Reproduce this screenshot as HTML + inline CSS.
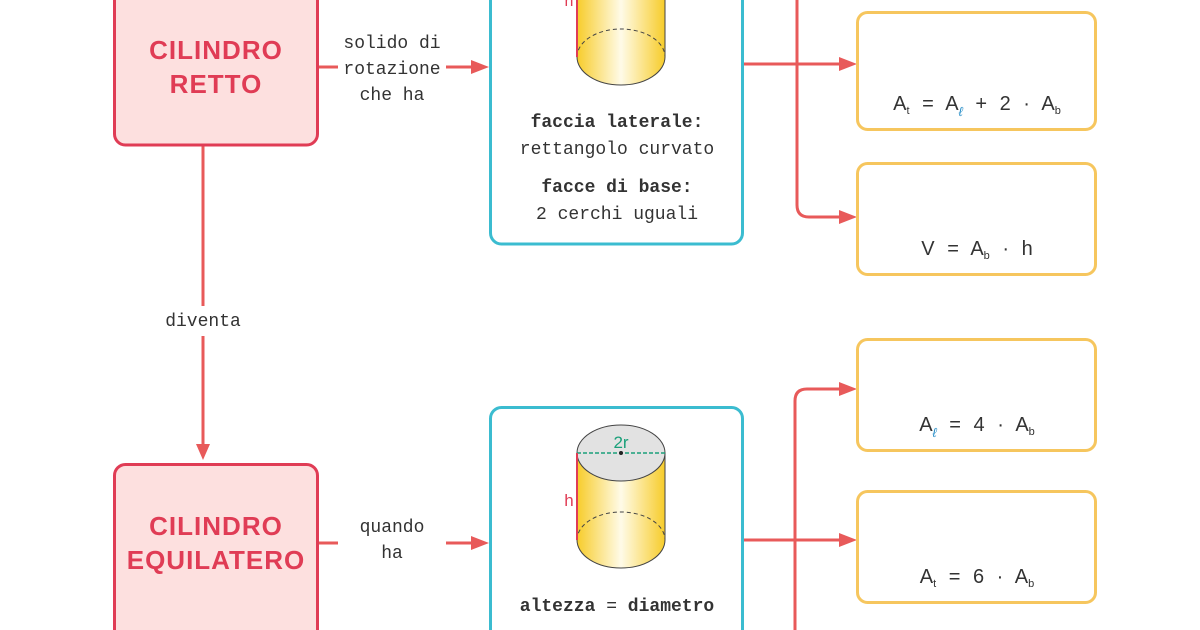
<!DOCTYPE html>
<html><head><meta charset="utf-8"><style>
html,body{margin:0;padding:0;background:#fff;}
svg{display:block;font-family:"Liberation Sans","DejaVu Sans",sans-serif;}
.m{font-family:"Liberation Mono","DejaVu Sans Mono",monospace;}
</style></head><body>
<svg width="1200" height="630" viewBox="0 0 1200 630" xmlns="http://www.w3.org/2000/svg">
<defs>
<linearGradient id="cy" x1="0" x2="1" y1="0" y2="0">
<stop offset="0" stop-color="#f7cc2a"/><stop offset="0.5" stop-color="#fffbe8"/><stop offset="1" stop-color="#f7cc2a"/>
</linearGradient>
</defs>
<g stroke="#e85a5a" stroke-width="3" fill="none">
<line x1="318" y1="67" x2="338" y2="67"/>
<line x1="446" y1="67" x2="472" y2="67"/>
<line x1="203" y1="146" x2="203" y2="306"/>
<line x1="203" y1="336" x2="203" y2="445"/>
<line x1="318" y1="543" x2="338" y2="543"/>
<line x1="446" y1="543" x2="472" y2="543"/>
<line x1="743" y1="64" x2="840" y2="64"/>
<path d="M797 0 V205 Q797 217 809 217 H840"/>
<line x1="743" y1="540" x2="840" y2="540"/>
<path d="M795 630 V401 Q795 389 807 389 H840"/>
</g>
<g fill="#e85a5a">
<polygon points="489,67 471,60 471,74"/>
<polygon points="489,543 471,536 471,550"/>
<polygon points="203,460 196,444 210,444"/>
<polygon points="857,64 839,57 839,71"/>
<polygon points="857,217 839,210 839,224"/>
<polygon points="857,540 839,533 839,547"/>
<polygon points="857,389 839,382 839,396"/>
</g>
<rect x="114.5" y="-12" width="203" height="157" rx="11" fill="#fde0df" stroke="#e03c55" stroke-width="3"/>
<rect x="114.5" y="464.5" width="203" height="180" rx="11" fill="#fde0df" stroke="#e03c55" stroke-width="3"/>
<g fill="#e03c55" font-size="26" font-weight="bold" text-anchor="middle" letter-spacing="1">
<text x="216" y="59">CILINDRO</text>
<text x="216" y="93">RETTO</text>
<text x="216" y="535">CILINDRO</text>
<text x="216" y="569">EQUILATERO</text>
</g>
<g class="m" fill="#333" font-size="18" text-anchor="middle">
<text x="392" y="48">solido di</text>
<text x="392" y="74">rotazione</text>
<text x="392" y="100">che ha</text>
<text x="203" y="326">diventa</text>
<text x="392" y="532">quando</text>
<text x="392" y="558">ha</text>
</g>
<rect x="490.5" y="-12" width="252" height="256" rx="11" fill="#fff" stroke="#3bbcd0" stroke-width="3"/>
<rect x="490.5" y="407.5" width="252" height="240" rx="11" fill="#fff" stroke="#3bbcd0" stroke-width="3"/>
<path d="M577 -5 V57 A44 28 0 0 0 665 57 V-5 Z" fill="url(#cy)" stroke="#444" stroke-width="1"/>
<path d="M577 57 A44 28 0 0 1 665 57" fill="none" stroke="#444" stroke-width="1" stroke-dasharray="4,3"/>
<line x1="577" y1="-5" x2="577" y2="57" stroke="#e03c55" stroke-width="2"/>
<text x="569" y="6" fill="#e03c55" font-size="16" text-anchor="middle">h</text>
<path d="M577 453 V540 A44 28 0 0 0 665 540 V453 Z" fill="url(#cy)" stroke="#444" stroke-width="1"/>
<path d="M577 540 A44 28 0 0 1 665 540" fill="none" stroke="#444" stroke-width="1" stroke-dasharray="4,3"/>
<ellipse cx="621" cy="453" rx="44" ry="28" fill="#e2e2e2" stroke="#444" stroke-width="1"/>
<line x1="577" y1="453" x2="665" y2="453" stroke="#1aa07a" stroke-width="1.5" stroke-dasharray="4,2"/>
<circle cx="621" cy="453" r="2" fill="#222"/>
<line x1="577" y1="453" x2="577" y2="540" stroke="#e03c55" stroke-width="2"/>
<text x="621" y="448" fill="#1aa07a" font-size="17" text-anchor="middle">2r</text>
<text x="569" y="506" fill="#e03c55" font-size="17" text-anchor="middle">h</text>
<g class="m" fill="#333" font-size="18" text-anchor="middle">
<text x="617" y="127" font-weight="bold">faccia laterale:</text>
<text x="617" y="154">rettangolo curvato</text>
<text x="617" y="192" font-weight="bold">facce di base:</text>
<text x="617" y="219">2 cerchi uguali</text>
<text x="617" y="611"><tspan font-weight="bold">altezza</tspan> = <tspan font-weight="bold">diametro</tspan></text>
</g>
<g fill="#fff" stroke="#f6c65e" stroke-width="3">
<rect x="857.5" y="12.5" width="238" height="117" rx="10"/>
<rect x="857.5" y="163.5" width="238" height="111" rx="10"/>
<rect x="857.5" y="339.5" width="238" height="111" rx="10"/>
<rect x="857.5" y="491.5" width="238" height="111" rx="10"/>
</g>
<g fill="#333" font-size="20" text-anchor="middle" word-spacing="7">
<text x="977" y="110">A<tspan font-size="11" dy="4">t</tspan><tspan dy="-4"> = A</tspan><tspan font-size="13" dy="6" fill="#2a8fc8" font-style="italic">ℓ</tspan><tspan dy="-6"> + 2 · A</tspan><tspan font-size="11" dy="4">b</tspan></text>
<text x="977" y="255">V = A<tspan font-size="11" dy="4">b</tspan><tspan dy="-4"> · h</tspan></text>
<text x="977" y="431">A<tspan font-size="13" dy="6" fill="#2a8fc8" font-style="italic">ℓ</tspan><tspan dy="-6"> = 4 · A</tspan><tspan font-size="11" dy="4">b</tspan></text>
<text x="977" y="583">A<tspan font-size="11" dy="4">t</tspan><tspan dy="-4"> = 6 · A</tspan><tspan font-size="11" dy="4">b</tspan></text>
</g>
</svg>
</body></html>
